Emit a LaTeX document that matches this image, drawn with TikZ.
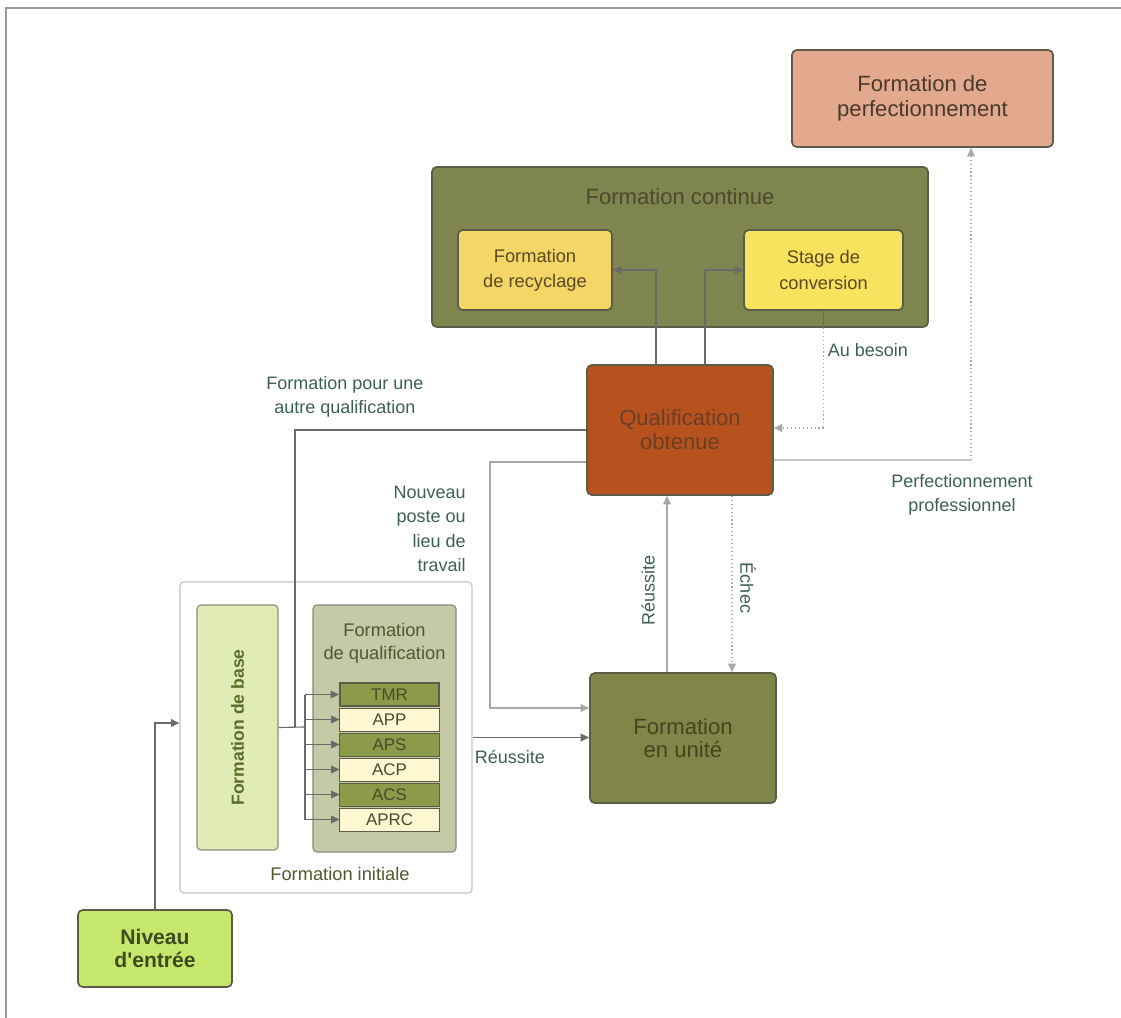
\documentclass[tikz,border=0pt]{standalone}
\usepackage{fontspec}
\setmainfont{Liberation Sans}
\usetikzlibrary{arrows.meta}
\definecolor{framegray}{HTML}{9A9A9A}
\definecolor{boxborder}{HTML}{5C5C48}
\definecolor{perfc}{HTML}{E2A98E}
\definecolor{perftxt}{HTML}{4A3A2C}
\definecolor{olivec}{HTML}{7E854F}
\definecolor{conttxt}{HTML}{4B4A30}
\definecolor{yela}{HTML}{F4D666}
\definecolor{yelb}{HTML}{F8E25E}
\definecolor{yeltxt}{HTML}{5A4A22}
\definecolor{qualc}{HTML}{B7521F}
\definecolor{qualtxt}{HTML}{6B3F25}
\definecolor{unitec}{HTML}{7F8648}
\definecolor{unitetxt}{HTML}{45441F}
\definecolor{nivc}{HTML}{C5E86C}
\definecolor{nivtxt}{HTML}{3F4A1E}
\definecolor{basec}{HTML}{E1EBB5}
\definecolor{basetxt}{HTML}{5C6E2A}
\definecolor{fqc}{HTML}{C4C9A6}
\definecolor{fqtxt}{HTML}{4E5A2E}
\definecolor{bardark}{HTML}{8B9B4A}
\definecolor{barlight}{HTML}{FFF8D2}
\definecolor{bartxt}{HTML}{4A4A2A}
\definecolor{initborder}{HTML}{C4C4C4}
\definecolor{lblcol}{HTML}{3D5F57}
\definecolor{linegray}{HTML}{6A6A6A}
\definecolor{lightgray}{HTML}{A8A8A8}
\tikzset{
  box/.style={draw=boxborder, line width=1.2pt, rounded corners=1.2mm, align=center, inner sep=0pt},
  thinbox/.style={draw=#1, line width=0.8pt, rounded corners=1mm, align=center, inner sep=0pt},
  bigtxt/.style={font=\fontsize{15.7}{18}\selectfont},
  smalltxt/.style={font=\fontsize{13}{18}\selectfont},
  lbl/.style={text=lblcol, font=\fontsize{12.8}{17.4}\selectfont, align=center, inner sep=0pt},
  bar/.style={draw=boxborder, line width=0.7pt, minimum width=2.475cm, minimum height=0.575cm, inner sep=0pt, text=bartxt, font=\fontsize{12}{14}\selectfont},
  conn/.style={draw=linegray, line width=0.8pt},
  lconn/.style={draw=lightgray, line width=0.8pt},
  tip/.style={-{Triangle[length=6pt,width=5.5pt]}}
}
\begin{document}
\begin{tikzpicture}[x=0.025cm,y=-0.025cm]
\useasboundingbox (0,0) rectangle (1121,1018);
\coordinate (fa) at (6,1018);
\coordinate (fb) at (6,8);
\coordinate (fc) at (1121,8);
\draw[framegray, line width=1pt] (fa) -- (fb) -- (fc);

% boxes
\node[box, fill=perfc, text=perftxt, bigtxt, minimum width=6.525cm, minimum height=2.425cm] (perf) at (922.5,98.5) {Formation de\\perfectionnement};
\node[box, fill=olivec, minimum width=12.4cm, minimum height=4cm] (cont) at (680,247) {};
\node[text=conttxt, bigtxt] (conttitle) at (680,197) {Formation continue};
\node[box, fill=yela, text=yeltxt, smalltxt, minimum width=3.85cm, minimum height=2cm] (recy) at (535,270) {Formation\\de recyclage};
\node[box, fill=yelb, text=yeltxt, smalltxt, minimum width=3.975cm, minimum height=2cm] (stage) at (823.5,270) {Stage de\\conversion};
\node[box, fill=qualc, text=qualtxt, font=\fontsize{15.7}{17}\selectfont, minimum width=4.65cm, minimum height=3.25cm] (qual) at (680,430) {Qualification\\obtenue};
\node[box, fill=unitec, text=unitetxt, font=\fontsize{15.7}{16.5}\selectfont, minimum width=4.65cm, minimum height=3.25cm] (unite) at (683,738) {Formation\\en unité};
\node[box, fill=nivc, text=nivtxt, font=\bfseries\fontsize{15}{16.5}\selectfont, minimum width=3.85cm, minimum height=1.925cm] (niveau) at (155,948.5) {Niveau\\d\textquotesingle entrée};

\node[thinbox=initborder, fill=white, minimum width=7.3cm, minimum height=7.775cm] (init) at (326,737.5) {};
\node[text=fqtxt, smalltxt] (initlbl) at (340,874) {Formation initiale};
\node[thinbox={boxborder!70}, fill=basec, minimum width=2.025cm, minimum height=6.125cm] (base) at (237.5,727.5) {};
\node[rotate=90, text=basetxt, font=\bfseries\fontsize{12.5}{14}\selectfont] (basetext) at (237.5,727.5) {Formation de base};
\node[thinbox={boxborder!70}, fill=fqc, minimum width=3.575cm, minimum height=6.175cm] (fq) at (384.5,728.5) {};
\node[text=fqtxt, font=\fontsize{13}{16.5}\selectfont, align=center] (fqtitle) at (384.5,643.5) {Formation\\de qualification};

\node[bar, fill=bardark, line width=1.4pt] (b1) at (389.5,694.5) {TMR};
\node[bar, fill=barlight] (b2) at (389.5,719.5) {APP};
\node[bar, fill=bardark] (b3) at (389.5,744.5) {APS};
\node[bar, fill=barlight] (b4) at (389.5,769.5) {ACP};
\node[bar, fill=bardark] (b5) at (389.5,794.5) {ACS};
\node[bar, fill=barlight] (b6) at (389.5,819.5) {APRC};

% coordinates
\coordinate (join) at (295,727);
\coordinate (bus) at (305,727);
\coordinate (bustop) at (305,694.5);
\coordinate (busbot) at (305,819.5);
\coordinate (nv) at (490,708);
\coordinate (rx) at (667,600);
\coordinate (ex) at (732,600);
\coordinate (ab) at (822,428);
\coordinate (px) at (971,460);
\coordinate (nvx) at (155,723);
\coordinate (ql) at (656,300);
\coordinate (qr) at (705,300);

% connectors
\draw[conn, tip] (ql |- qual.north) |- (recy.east);
\draw[conn, tip] (qr |- qual.north) |- (stage.west);
\draw[conn] (qual.west) -| (join);
\draw[conn] (base.east) -- (bus);
\draw[conn] (bustop) -- (busbot);
\foreach \b in {b1,b2,b3,b4,b5,b6}{
  \draw[conn, tip] (bus |- \b.west) -- (\b.west);
}
\draw[lconn, tip] ([yshift=-0.8cm]qual.west) -| (nv) -- (nv -| unite.west);
\draw[conn, tip] (init.east) -- (init.east -| unite.west);
\draw[lconn, tip] (rx |- unite.north) -- (rx |- qual.south);
\draw[lconn, dotted, line width=1pt, tip] (ex |- qual.south) -- (ex |- unite.north);
\draw[conn] (stage.south) -- (stage.south |- cont.south);
\draw[lconn, dotted, line width=1pt] (stage.south |- cont.south) -- (stage.south |- ab);
\draw[lconn, dotted, line width=1pt, tip] (stage.south |- ab) -- (ab -| qual.east);
\draw[lconn] ([yshift=-0.75cm]qual.east) -- (px);
\draw[lconn, dotted, line width=1pt, tip] (px) -- (px |- perf.south);
\draw[conn, tip] (niveau.north) |- (init.west |- nvx);

% labels
\node[lbl] (lautre) at (345,397) {Formation pour une\\autre qualification};
\node[lbl, align=right, anchor=east] (lnouv) at (466,529) {Nouveau\\poste ou\\lieu de\\travail};
\node[lbl] (lbes) at (868,350) {Au besoin};
\node[lbl] (lperf) at (962,495) {Perfectionnement\\professionnel};
\node[lbl] (lreu) at (510,757) {Réussite};
\node[lbl, rotate=90] (lreu2) at (648,590) {Réussite};
\node[lbl, rotate=-90] (lech) at (748,588) {Échec};
\end{tikzpicture}
\end{document}
